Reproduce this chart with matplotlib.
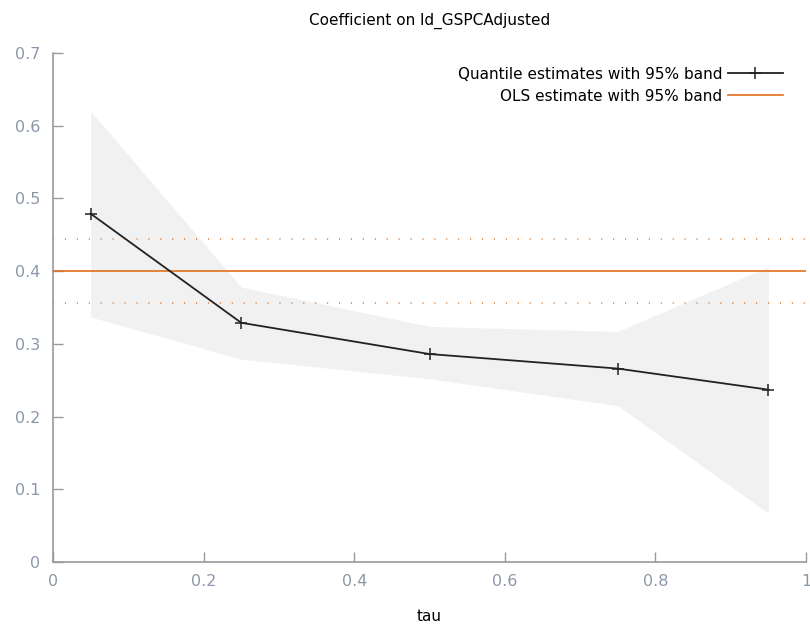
import matplotlib.pyplot as plt
import numpy as np

# quantile regression estimates
tau = [0.05, 0.25, 0.50, 0.75, 0.95]
coef = [0.479, 0.329, 0.286, 0.266, 0.237]
band_lo = [0.337, 0.279, 0.252, 0.215, 0.067]
band_hi = [0.620, 0.378, 0.324, 0.317, 0.406]

ols_coef = 0.400
ols_lo = 0.356
ols_hi = 0.444

axis_col = "#999999"
tick_col = "#8c98aa"
ols_col = "#e0701e"

fig = plt.figure(figsize=(8.1, 6.24), dpi=100)
ax = fig.add_axes([53 / 810, 62 / 624, 753 / 810, 509 / 624])

ax.fill_between(tau, band_lo, band_hi, color="#f1f1f1", lw=0, zorder=1)

ax.axhline(ols_hi, color=ols_col, lw=1.3, ls=(0, (0.6, 6)), alpha=0.8, zorder=2)
ax.axhline(ols_lo, color=ols_col, lw=1.3, ls=(0, (0.6, 6)), alpha=0.8, zorder=2)
ax.plot([0, 1], [ols_coef, ols_coef], color=ols_col, lw=1.2, zorder=3,
        label="OLS estimate with 95% band")

ax.plot(tau, coef, color="#222222", lw=1.3, marker="+", markersize=8,
        markeredgewidth=1.1, zorder=4, label="Quantile estimates with 95% band")

ax.set_xlim(0, 1)
ax.set_ylim(0, 0.7)
ax.set_xticks([0, 0.2, 0.4, 0.6, 0.8, 1])
ax.set_xticklabels(["0", "0.2", "0.4", "0.6", "0.8", "1"])
ax.set_yticks(np.arange(0, 0.71, 0.1))
ax.set_yticklabels(["0", "0.1", "0.2", "0.3", "0.4", "0.5", "0.6", "0.7"])

for side in ["top", "right"]:
    ax.spines[side].set_visible(False)
for side in ["left", "bottom"]:
    ax.spines[side].set_color(axis_col)
    ax.spines[side].set_linewidth(1.2)

ax.tick_params(direction="in", length=7, width=1, color=axis_col,
               labelcolor=tick_col, labelsize=11.5, pad=9)

ax.set_title("Coefficient on ld_GSPCAdjusted", fontsize=11, pad=20)
ax.set_xlabel("tau", fontsize=11, labelpad=14)

handles, labels = ax.get_legend_handles_labels()
ax.legend(handles[::-1], labels[::-1], loc="upper right", frameon=False,
          markerfirst=False, fontsize=11, handlelength=3.6, handletextpad=0.35,
          bbox_to_anchor=(0.977, 0.985), labelspacing=0.45, borderaxespad=0)

fig.savefig("out.png", dpi=100, facecolor="white")
